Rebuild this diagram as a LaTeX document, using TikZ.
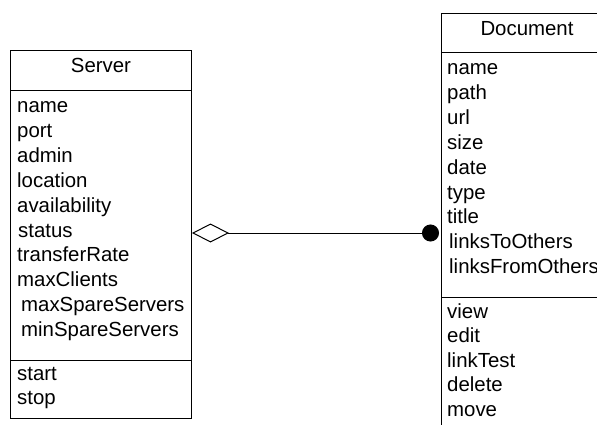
\documentclass[tikz,border=0pt]{standalone}
\usepackage{fontspec}
\setmainfont{Liberation Sans}
\usetikzlibrary{arrows.meta}

\tikzset{
  classbox/.style={draw, line width=1pt, anchor=north west, inner sep=0pt},
  member/.style={anchor=base west, inner sep=0pt, font=\fontsize{20.4}{24}\selectfont},
  classname/.style={anchor=base, inner sep=0pt, font=\fontsize{20.4}{24}\selectfont},
  aggr/.style={line width=1pt, {Diamond[open, fill=white, length=37pt, width=19pt]}-{Circle[length=17pt]}, shorten >=2pt}
}

\begin{document}
\begin{tikzpicture}[x=1pt,y=-1pt]
\useasboundingbox (0,0) rectangle (597,425);
\clip (0,0) rectangle (597,425);
% Server class
\node[classbox, minimum width=181pt, minimum height=368pt] (server) at (10,50) {};
\draw[line width=1pt] (server.west |- 0,91) -- (server.east |- 0,91);
\draw[line width=1pt] (server.west |- 0,360) -- (server.east |- 0,360);
\node[classname] (srvtitle) at (101,73) {Server};
\node[member] (srvname) at (17,113) {name};
\node[member] (srvport) at (17,137.8) {port};
\node[member] (srvadmin) at (17,162.6) {admin};
\node[member] (srvloc) at (17,187.4) {location};
\node[member] (srvavail) at (17,212.2) {availability};
\node[member] (srvstatus) at (18,237) {status};
\node[member] (srvrate) at (17,261.8) {transferRate};
\node[member] (srvmaxc) at (17,286.6) {maxClients};
\node[member] (srvmaxs) at (21,311.4) {maxSpareServers};
\node[member] (srvmins) at (21,336.2) {minSpareServers};
\node[member] (srvstart) at (17,380) {start};
\node[member] (srvstop) at (17,404) {stop};
% Document class
\node[classbox, minimum width=172pt, minimum height=440pt] (doc) at (441,13) {};
\draw[line width=1pt] (doc.west |- 0,53) -- (doc.east |- 0,53);
\draw[line width=1pt] (doc.west |- 0,297) -- (doc.east |- 0,297);
\node[classname] (doctitle) at (527,36) {Document};
\node[member] (docname) at (447,75) {name};
\node[member] (docpath) at (447,99.8) {path};
\node[member] (docurl) at (447,124.6) {url};
\node[member] (docsize) at (447,149.4) {size};
\node[member] (docdate) at (447,174.2) {date};
\node[member] (doctype) at (447,199) {type};
\node[member] (docttl) at (447,223.8) {title};
\node[member] (docto) at (449,248.6) {linksToOthers};
\node[member] (docfrom) at (449,273.4) {linksFromOthers};
\node[member] (docview) at (447,318) {view};
\node[member] (docedit) at (447,342.6) {edit};
\node[member] (doctest) at (447,367.2) {linkTest};
\node[member] (docdel) at (447,391.8) {delete};
\node[member] (docmove) at (447,416.4) {move};
% aggregation
\draw[aggr] (server.east |- 0,233) -- (doc.west |- 0,233);
\end{tikzpicture}
\end{document}
